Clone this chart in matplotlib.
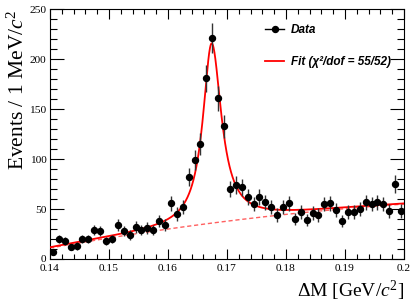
import numpy as np
import matplotlib
matplotlib.use('Agg')
import matplotlib.pyplot as plt
from matplotlib.lines import Line2D
from matplotlib.ticker import MultipleLocator

plt.rcParams['font.family'] = ['Liberation Serif', 'DejaVu Serif']
plt.rcParams['mathtext.fontset'] = 'custom'
plt.rcParams['mathtext.rm'] = 'Liberation Serif'
plt.rcParams['mathtext.it'] = 'Liberation Serif:italic'

# data: events per 1 MeV bin, 0.140 - 0.200 GeV
bin_lo = 0.140
bin_w = 0.001
counts = [7, 20, 18, 12, 13, 20, 20, 29, 28, 18,
          20, 34, 28, 24, 32, 29, 31, 29, 38, 34,
          56, 45, 52, 82, 99, 115, 181, 221, 161, 133,
          70, 74, 72, 62, 55, 62, 57, 52, 44, 52,
          56, 40, 47, 39, 46, 44, 55, 56, 49, 38,
          47, 47, 50, 57, 55, 57, 55, 48, 75, 48]

# fit parameters (signal = Breit-Wigner, background = 2nd order poly)
sig_mean = 0.1674
sig_amp = 180.0
sig_hw_left = 0.0018
sig_hw_right = 0.0020
bkg_coef = [11.0, 63.5, -19.5]   # in t = (x - 0.14) / 0.06

counts = np.array(counts, dtype=float)
centers = bin_lo + bin_w * (np.arange(len(counts)) + 0.5)
errs = np.sqrt(counts)

xf = np.linspace(0.14, 0.2, 1200)
t = (xf - 0.14) / 0.06
bkg = bkg_coef[0] + bkg_coef[1] * t + bkg_coef[2] * t ** 2
hw = np.where(xf < sig_mean, sig_hw_left, sig_hw_right)
sig = sig_amp / (1 + ((xf - sig_mean) / hw) ** 2)

fig = plt.figure(figsize=(4.15, 3.06), dpi=100)
ax = fig.add_axes([50 / 415, 47 / 306, 354 / 415, 249.7 / 306])

ax.plot(xf, bkg, color='#ff6060', lw=1.0, ls=(0, (3, 2)), zorder=2)
ax.plot(xf, bkg + sig, color='red', lw=1.3, zorder=3)
ax.errorbar(centers, counts, yerr=errs, fmt='o', color='black', ms=4.3,
            ecolor='#333333', elinewidth=1.0, capsize=0, zorder=4)

ax.set_xlim(0.14, 0.2)
ax.set_ylim(0, 250)
ax.xaxis.set_minor_locator(MultipleLocator(0.002))
ax.yaxis.set_major_locator(MultipleLocator(50))
ax.yaxis.set_minor_locator(MultipleLocator(10))
ax.set_xticks(np.arange(0.14, 0.2001, 0.01))
ax.set_xticklabels(['0.14', '0.15', '0.16', '0.17', '0.18', '0.19', '0.2'])
ax.tick_params(which='both', direction='in', top=True, right=True,
               labelsize=8.2, width=0.8)
ax.tick_params(axis='x', which='major', length=7, pad=3.5)
ax.tick_params(axis='x', which='minor', length=3.5)
ax.tick_params(axis='y', which='major', length=10, pad=2.5)
ax.tick_params(axis='y', which='minor', length=5)
for s in ax.spines.values():
    s.set_linewidth(0.8)

ax.set_xlabel(r'$\Delta$M [GeV/$c^{2}$]', fontsize=14, loc='right')
ax.xaxis.set_label_coords(1.0, -0.08)
ax.set_ylabel(r'Events / 1 MeV/$c^{2}$', fontsize=15.5, loc='top')
ax.yaxis.set_label_coords(-0.06, 1.0)

handles = [Line2D([], [], color='black', marker='o', ms=4.3, lw=1.0),
           Line2D([], [], color='red', lw=1.3)]
ax.legend(handles, ['Data', 'Fit (χ²/dof = 55/52)'], loc='upper left',
          bbox_to_anchor=(0.578, 0.985), frameon=False, handlelength=1.6,
          handletextpad=0.6, labelspacing=1.75,
          prop={'family': 'Liberation Sans', 'weight': 'bold',
                'style': 'italic', 'size': 8.5})

plt.savefig('out.png', dpi=100)
